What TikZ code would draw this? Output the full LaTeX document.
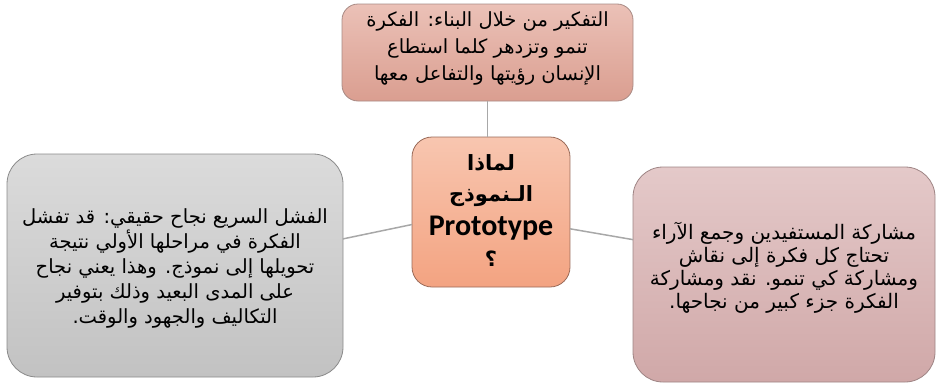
\documentclass[tikz,border=0pt]{standalone}
\usepackage{fontspec}
\setmainfont{Liberation Sans}
\newfontfamily\arabicfont[Script=Arabic]{DejaVu Sans}
\newfontfamily\arabicbold[Script=Arabic]{DejaVu Sans Bold}
\newfontfamily\latinbold{Carlito Bold}
\TeXXeTstate=1
\newcommand\rl[1]{\beginR#1\endR}

\definecolor{linkgray}{HTML}{A8A8A8}
\definecolor{TopA}{HTML}{EBC1B7}
\definecolor{TopB}{HTML}{DA9E90}
\definecolor{BorderTop}{HTML}{A88A84}
\definecolor{HubA}{HTML}{F8C6B0}
\definecolor{HubB}{HTML}{F3A381}
\definecolor{BorderHub}{HTML}{9A6A58}
\definecolor{LeftA}{HTML}{DBDBDB}
\definecolor{LeftB}{HTML}{C2C2C2}
\definecolor{BorderLeft}{HTML}{8A8A8A}
\definecolor{RightA}{HTML}{E4C9C9}
\definecolor{RightB}{HTML}{D0A8A8}
\definecolor{BorderRight}{HTML}{9E8484}

\tikzset{
  card/.style={draw, line width=0.8pt, inner sep=0pt, outer sep=0pt},
  words/.style={align=center, inner sep=0pt},
  topcard/.style={card, draw=BorderTop, top color=TopA, bottom color=TopB,
    minimum width=291pt, minimum height=97pt, rounded corners=16pt},
  hubcard/.style={card, draw=BorderHub, top color=HubA, bottom color=HubB,
    minimum width=158pt, minimum height=150pt, rounded corners=20pt},
  leftcard/.style={card, draw=BorderLeft, top color=LeftA, bottom color=LeftB,
    minimum width=336pt, minimum height=223pt, rounded corners=30pt},
  rightcard/.style={card, draw=BorderRight, top color=RightA, bottom color=RightB,
    minimum width=302pt, minimum height=215pt, rounded corners=30pt},
  link/.style={draw=linkgray, line width=1.5pt}
}

\begin{document}
\begin{tikzpicture}[x=1pt, y=-1pt]
  \useasboundingbox (0,0) rectangle (936,383);

  % boxes
  \node[topcard]   (build) at (487.5,52.5) {};
  \node[hubcard]   (hub)   at (491,212)    {};
  \node[leftcard]  (fail)  at (175,265.5)  {};
  \node[rightcard] (share) at (784,274.5)  {};

  % building to think
  \node[words, font=\arabicfont\fontsize{19.5}{27}\selectfont]
    (buildText) at ([yshift=4pt]build.center) {%
    \rl{التفكير من خلال البناء: الفكرة}\\
    \rl{تنمو وتزدهر كلما استطاع}\\
    \rl{الإنسان رؤيتها والتفاعل معها}};

  % central question
  \node[words, font=\arabicbold\fontsize{21}{31}\selectfont]
    (hubText) at ([yshift=1pt]hub.center) {%
    \rl{لماذا}\\
    \rl{الـنموذج}\\[3pt]
    {\latinbold\fontsize{30}{31}\selectfont Prototype}\\
    \rl{؟}};

  % fail fast
  \node[words, font=\arabicfont\fontsize{19.5}{25}\selectfont]
    (failText) at ([yshift=-3pt]fail.center) {%
    \rl{الفشل السريع نجاح حقيقي: قد تفشل}\\
    \rl{الفكرة في مراحلها الأولي نتيجة}\\
    \rl{تحويلها إلى نموذج. وهذا يعني نجاح}\\
    \rl{على المدى البعيد وذلك بتوفير}\\
    \rl{التكاليف والجهود والوقت.}};

  % sharing with beneficiaries
  \node[words, font=\arabicfont\fontsize{20}{23}\selectfont]
    (shareText) at ([yshift=7pt]share.center) {%
    \rl{مشاركة المستفيدين وجمع الآراء}\\
    \rl{تحتاج كل فكرة إلى نقاش}\\
    \rl{ومشاركة كي تنمو. نقد ومشاركة}\\
    \rl{الفكرة جزء كبير من نجاحها.}};

  % connectors
  \path[link] (build.south) -- (build.south |- hub.north);
  \path[link] (fail.9.6) -- (hub.189.3);
  \path[link] (hub.348.5) -- (share.167.9);
\end{tikzpicture}
\end{document}
